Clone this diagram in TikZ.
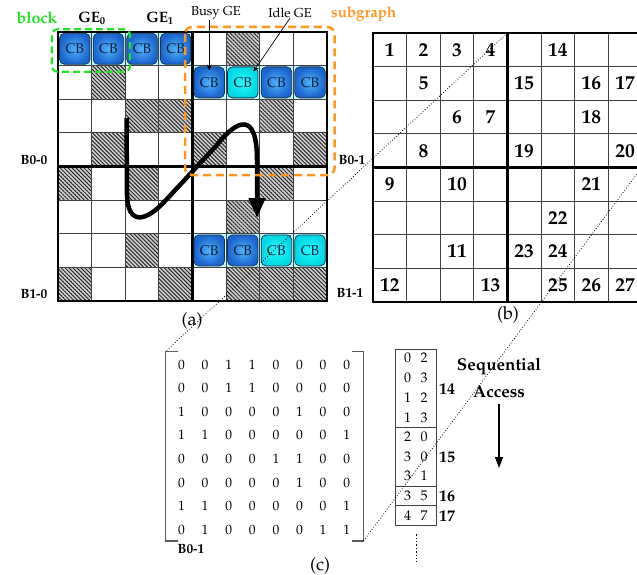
\documentclass[tikz,border=0pt]{standalone}
\usepackage[T1]{fontenc}
\renewcommand{\rmdefault}{ppl}
\usetikzlibrary{arrows.meta,patterns.meta}
\definecolor{blockgreen}{RGB}{34,228,34}
\definecolor{suborange}{RGB}{255,150,30}
\definecolor{cyanbg}{RGB}{190,255,255}
\definecolor{busyin}{RGB}{80,180,250}
\definecolor{busyout}{RGB}{25,100,205}
\definecolor{idlein}{RGB}{40,252,252}
\definecolor{idleout}{RGB}{0,215,228}
\definecolor{cbedge}{RGB}{30,50,80}
\definecolor{cbtext}{RGB}{15,30,60}
\newcommand{\fsz}[1]{\fontsize{#1}{#1}\selectfont}
\tikzset{
  thinln/.style={draw=black!75, line width=0.9pt},
  thickln/.style={draw=black, line width=2.2pt},
  hatch/.style={pattern={Lines[angle=-45,distance=2.8pt,line width=1pt]}, pattern color=black!85},
  cbbase/.style={rounded corners=5pt, draw=cbedge, line width=0.8pt, minimum width=30.5pt, minimum height=31pt, inner sep=0pt, font=\fsz{14}, text=cbtext},
  cbbusy/.style={cbbase, inner color=busyin, outer color=busyout},
  cbidle/.style={cbbase, inner color=idlein, outer color=idleout},
  bnum/.style={font=\bfseries\fsz{19.5}, inner sep=0pt},
  mnum/.style={font=\fsz{13.5}, inner sep=0pt},
  lnum/.style={font=\fsz{14}, inner sep=0pt},
  blbl/.style={font=\bfseries\fsz{13.4}, inner sep=0pt},
  gelbl/.style={font=\bfseries\fsz{15}, inner sep=0pt},
  sublbl/.style={font=\fsz{18}, inner sep=0pt},
  geannot/.style={font=\fsz{13}, inner sep=0pt},
  seqlbl/.style={font=\bfseries\fsz{17}, inner sep=0pt},
  cntlbl/.style={font=\bfseries\fsz{16}, inner sep=0pt, anchor=west},
  brk/.style={draw=black!65, line width=1.3pt},
  zoomln/.style={draw=black, line width=0.8pt, dotted},
  smallarrow/.style={draw=black, line width=0.7pt, -{Stealth[length=6pt,width=5pt]}},
}
\begin{document}
\begin{tikzpicture}[x=1pt,y=-1pt]
\useasboundingbox (0,0) rectangle (637,575);
\clip (0,0) rectangle (637,575);
\fill[white] (0,0) rectangle (637,575);

% ---------- (a) grid ----------
\fill[cyanbg] (58,32) rectangle (192.4,65.6);
\fill[cyanbg] (192.4,65.6) rectangle (326.8,99.2);
\fill[cyanbg] (192.4,233.6) rectangle (326.8,267.2);
\foreach \c/\r in {5/0,1/1,2/2,3/2,6/2,1/3,4/3,7/3,0/4,2/4,6/4,5/5,2/6,0/7,3/7,5/7,6/7,7/7}{
  \fill[black!18] ({58+\c*33.6},{32+\r*33.6}) rectangle ++(33.6,33.6);
  \fill[hatch] ({58+\c*33.6},{32+\r*33.6}) rectangle ++(33.6,33.6);
}
\foreach \i in {1,2,3,5,6,7}{
  \draw[thinln] ({58+\i*33.6},32) -- ({58+\i*33.6},300.8);
  \draw[thinln] (58,{32+\i*33.6}) -- (326.8,{32+\i*33.6});
}
\draw[thickln] (58,32) rectangle (326.8,300.8);
\draw[thickln] (192.4,32) -- (192.4,300.8);
\draw[thickln] (58,166.4) -- (326.8,166.4);

\foreach \c/\r in {0/0,1/0,2/0,3/0,4/1,6/1,7/1,4/6,5/6}
  \node[cbbusy] (cb\c\r) at ({58+(\c+0.5)*33.6},{32+(\r+0.5)*33.6}) {CB};
\foreach \c/\r in {5/1,6/6,7/6}
  \node[cbidle] (cb\c\r) at ({58+(\c+0.5)*33.6},{32+(\r+0.5)*33.6}) {CB};

% traversal curve
\draw[line width=4.5pt, -{Triangle[length=20pt,width=16pt]}]
  (126.5,118) -- (127,195) .. controls (128,226) and (146,222) .. (166,200)
  -- (216,146) .. controls (238,118) and (257,112) .. (257,160) -- (257,218);

% block and subgraph outlines
\draw[blockgreen, line width=2.2pt, dash pattern=on 7pt off 4pt, rounded corners=6pt]
  (51.7,29.3) rectangle (130,71.7);
\draw[suborange, line width=2.5pt, dash pattern=on 8pt off 5pt, rounded corners=7pt]
  (185,27) rectangle (334.5,175);

% labels (a)
\node[font=\bfseries\fsz{16}, text=blockgreen, inner sep=0pt] (lblock) at (37,18) {block};
\node[gelbl] (ge0) at (92,18) {GE\textsubscript{0}};
\node[gelbl] (ge1) at (160,18) {GE\textsubscript{1}};
\node[geannot] (busy) at (216,13) {Busy GE};
\node[geannot] (idle) at (290,13) {Idle GE};
\node[font=\bfseries\fsz{15}, text=suborange, inner sep=0pt, anchor=west] (subg) at (331,14) {subgraph};
\draw[smallarrow] (busy.south -| cb41.north) -- ([yshift=-4pt]cb41.north);
\draw[smallarrow] (idle.south) -- ([xshift=-5pt,yshift=-5pt]cb51.north east);

\node[blbl] (b00) at (34,160) {B0-0};
\node[blbl] (b10) at (34,294) {B1-0};
\node[blbl] (b01) at (352,160) {B0-1};
\node[blbl] (b11) at (350,293) {B1-1};
\node[sublbl] (capa) at (192,321) {(a)};

% ---------- (b) grid ----------
\foreach \i in {1,2,3,5,6,7}{
  \draw[thinln] ({373+\i*33.6},33) -- ({373+\i*33.6},301.8);
  \draw[thinln] (373,{33+\i*33.6}) -- (641.8,{33+\i*33.6});
}
\draw[thickln] (373,33) rectangle (641.8,301.8);
\draw[thickln] (507.4,33) -- (507.4,301.8);
\draw[thickln] (373,167.4) -- (641.8,167.4);
\foreach \c/\r/\n in {0/0/1,1/0/2,2/0/3,3/0/4,5/0/14,1/1/5,4/1/15,6/1/16,7/1/17,2/2/6,3/2/7,6/2/18,1/3/8,4/3/19,7/3/20,0/4/9,2/4/10,6/4/21,5/5/22,2/6/11,4/6/23,5/6/24,0/7/12,3/7/13,5/7/25,6/7/26,7/7/27}
  \node[bnum] (n\n) at ({373+(\c+0.5)*33.6},{33+(\r+0.5)*33.6}) {\n};
\node[sublbl] (capb) at (508,315) {(b)};
\coordinate (bq1) at (507.4,33);
\coordinate (bq2) at (641.8,167.4);

% ---------- (c) matrix ----------
\node[minimum width=197.6pt, minimum height=189pt, inner sep=0pt] (mat) at (264.5,446.2) {};
\draw[brk] ([xshift=12pt]mat.north west) -- (mat.north west) -- (mat.south west) -- ([xshift=12pt]mat.south west);
\draw[brk] ([xshift=-12pt]mat.north east) -- (mat.north east) -- (mat.south east) -- ([xshift=-12pt]mat.south east);
\foreach \row [count=\r from 0] in {{0,0,1,1,0,0,0,0},{0,0,1,1,0,0,0,0},{1,0,0,0,0,1,0,0},{1,1,0,0,0,0,0,1},{0,0,0,0,1,1,0,0},{0,0,0,0,0,1,0,0},{1,1,0,0,0,0,0,1},{0,1,0,0,0,0,1,1}}{
  \foreach \v [count=\c from 0] in \row
    \node[mnum] (m\r\c) at ({181.5+\c*23.6},{364.5+\r*23.6}) {\v};
}
\node[blbl] (bmat) at (191,549) {B0-1};
\node[sublbl] (capc) at (320,566) {(c)};

% list
\node[draw=black!75, line width=0.9pt, minimum width=41pt, minimum height=176.7pt, inner sep=0pt] (lst) at (416.2,437.35) {};
\foreach \yy in {427.7,486,505.7}
  \draw[draw=black!75, line width=0.9pt] (lst.west |- 0,\yy) -- (lst.east |- 0,\yy);
\foreach \a/\b/\yy [count=\k] in {0/2/358,0/3/378,1/2/398,1/3/417.5,2/0/437,3/0/457,3/1/476,3/5/496,4/7/516}{
  \node[lnum] (la\k) at (407.5,\yy) {\a};
  \node[lnum] (lb\k) at (424,\yy) {\b};
}
\node[cntlbl] (c14) at (439,389) {14};
\node[cntlbl] (c15) at (439,457.7) {15};
\node[cntlbl] (c16) at (439,496.7) {16};
\node[cntlbl] (c17) at (439,516) {17};
\coordinate (dotend) at (416.2,562);
\draw[black, line width=1.4pt, dotted] ([yshift=-8pt]lst.south) -- (dotend);

\node[seqlbl] (seq) at (499,367) {Sequential};
\node[seqlbl] (acc) at (499,391.7) {Access};
\coordinate (seqend) at (499,468);
\draw[line width=1.3pt, -{Triangle[length=11pt,width=8pt]}] ([yshift=-6pt]acc.south) -- (seqend);

% zoom lines
\draw[zoomln] (bq1) -- (mat.north west);
\draw[zoomln] (mat.south east) -- (bq2);
\end{tikzpicture}
\end{document}
